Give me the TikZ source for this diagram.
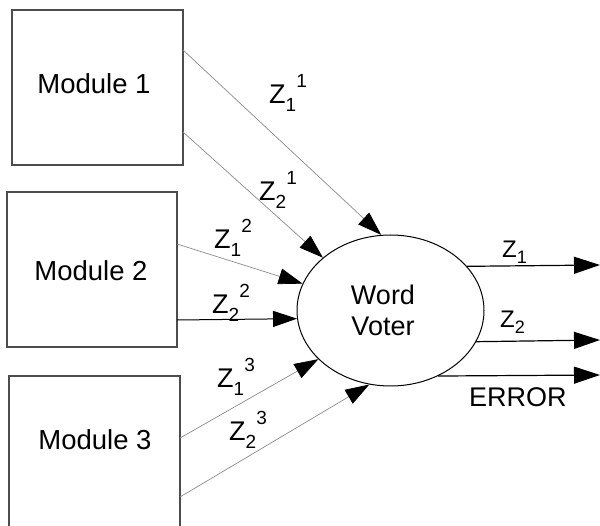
\documentclass[tikz,border=0pt]{standalone}
\usepackage{fontspec}
\setmainfont{Liberation Sans}
\usetikzlibrary{arrows.meta,shapes.geometric}
\newcommand{\zlab}[2]{Z\raisebox{-0.28em}{\fontsize{19}{19}\selectfont #1}\raisebox{0.62em}{\fontsize{19}{19}\selectfont #2}}
\newcommand{\zout}[1]{Z\raisebox{-0.25em}{\fontsize{18}{18}\selectfont #1}}
\tikzset{
  modbox/.style={draw=black!70, line width=1.4pt, minimum width=171pt, minimum height=155pt, inner sep=0pt},
  modtext/.style={inner sep=0pt, font=\fontsize{27.5}{30}\selectfont},
  voter/.style={draw=black, line width=1pt, ellipse, minimum width=187pt, minimum height=151pt, inner sep=0pt},
  inline/.style={draw=black!45, line width=0.7pt, -{Triangle[length=24pt,width=16pt,color=black]}},
  outline/.style={draw=black, line width=1.2pt, -{Triangle[length=26pt,width=17pt]}},
  zlbl/.style={anchor=base west, inner sep=0pt, font=\fontsize{27}{27}\selectfont},
  olbl/.style={anchor=base west, inner sep=0pt, font=\fontsize{24}{24}\selectfont},
}
\begin{document}
\begin{tikzpicture}[x=1pt,y=-1pt]
\useasboundingbox (0,0) rectangle (600,526);
\clip (0,0) rectangle (600,526);
\fill[white] (0,0) rectangle (600,526);
% modules
\node[modbox] (m1) at (97.5,87.5) {};
\node[modbox, minimum width=170pt] (m2) at (92,269.5) {};
\node[modbox] (m3) at (94.5,453.5) {};
\node[modtext] (t1) at (94,84) {Module 1};
\node[modtext] (t2) at (91,271) {Module 2};
\node[modtext] (t3) at (95,440) {Module 3};
% voter
\node[voter] (v) at (390.5,310.5) {};
\node[align=center, inner sep=0pt, font=\fontsize{27}{31}\selectfont] (vt) at (383,310) {Word\\Voter};
% input start points
\coordinate (a1) at (183,50);
\coordinate (a2) at (183,132);
\coordinate (b1) at (177,244);
\coordinate (b2) at (177,320);
\coordinate (c1) at (180,438);
\coordinate (c2) at (180,497);
% connectors
\draw[inline] (a1) -- (v.97.7);
\draw[inline] (a2) -- (v.142.9);
\draw[inline] (b1) -- (v.163.6);
\draw[inline, draw=black, line width=1pt] (b2) -- (v.185.7);
\draw[inline] (c1) -- (v.214);
\draw[inline] (c2) -- (v.254.8);
% outputs
\coordinate (o1) at (600,265);
\coordinate (o2) at (600,340);
\coordinate (o3) at (600,375);
\draw[outline] (v.30.7) -- (o1);
\draw[outline] (v.-20.8) -- (o2);
\draw[outline] (v.-54) -- (o3);
% labels
\node[zlbl] (l11) at (269,104) {\zlab{1}{1}};
\node[zlbl] (l21) at (259,201) {\zlab{2}{1}};
\node[zlbl] (l12) at (214,249) {\zlab{1}{2}};
\node[zlbl] (l22) at (212,314) {\zlab{2}{2}};
\node[zlbl] (l13) at (217,388) {\zlab{1}{3}};
\node[zlbl] (l23) at (229,441) {\zlab{2}{3}};
\node[olbl] (lo1) at (502,258) {\zout{1}};
\node[olbl] (lo2) at (500,328) {\zout{2}};
\node[olbl, font=\fontsize{27}{27}\selectfont] (lo3) at (469,407) {ERROR};
\end{tikzpicture}
\end{document}
